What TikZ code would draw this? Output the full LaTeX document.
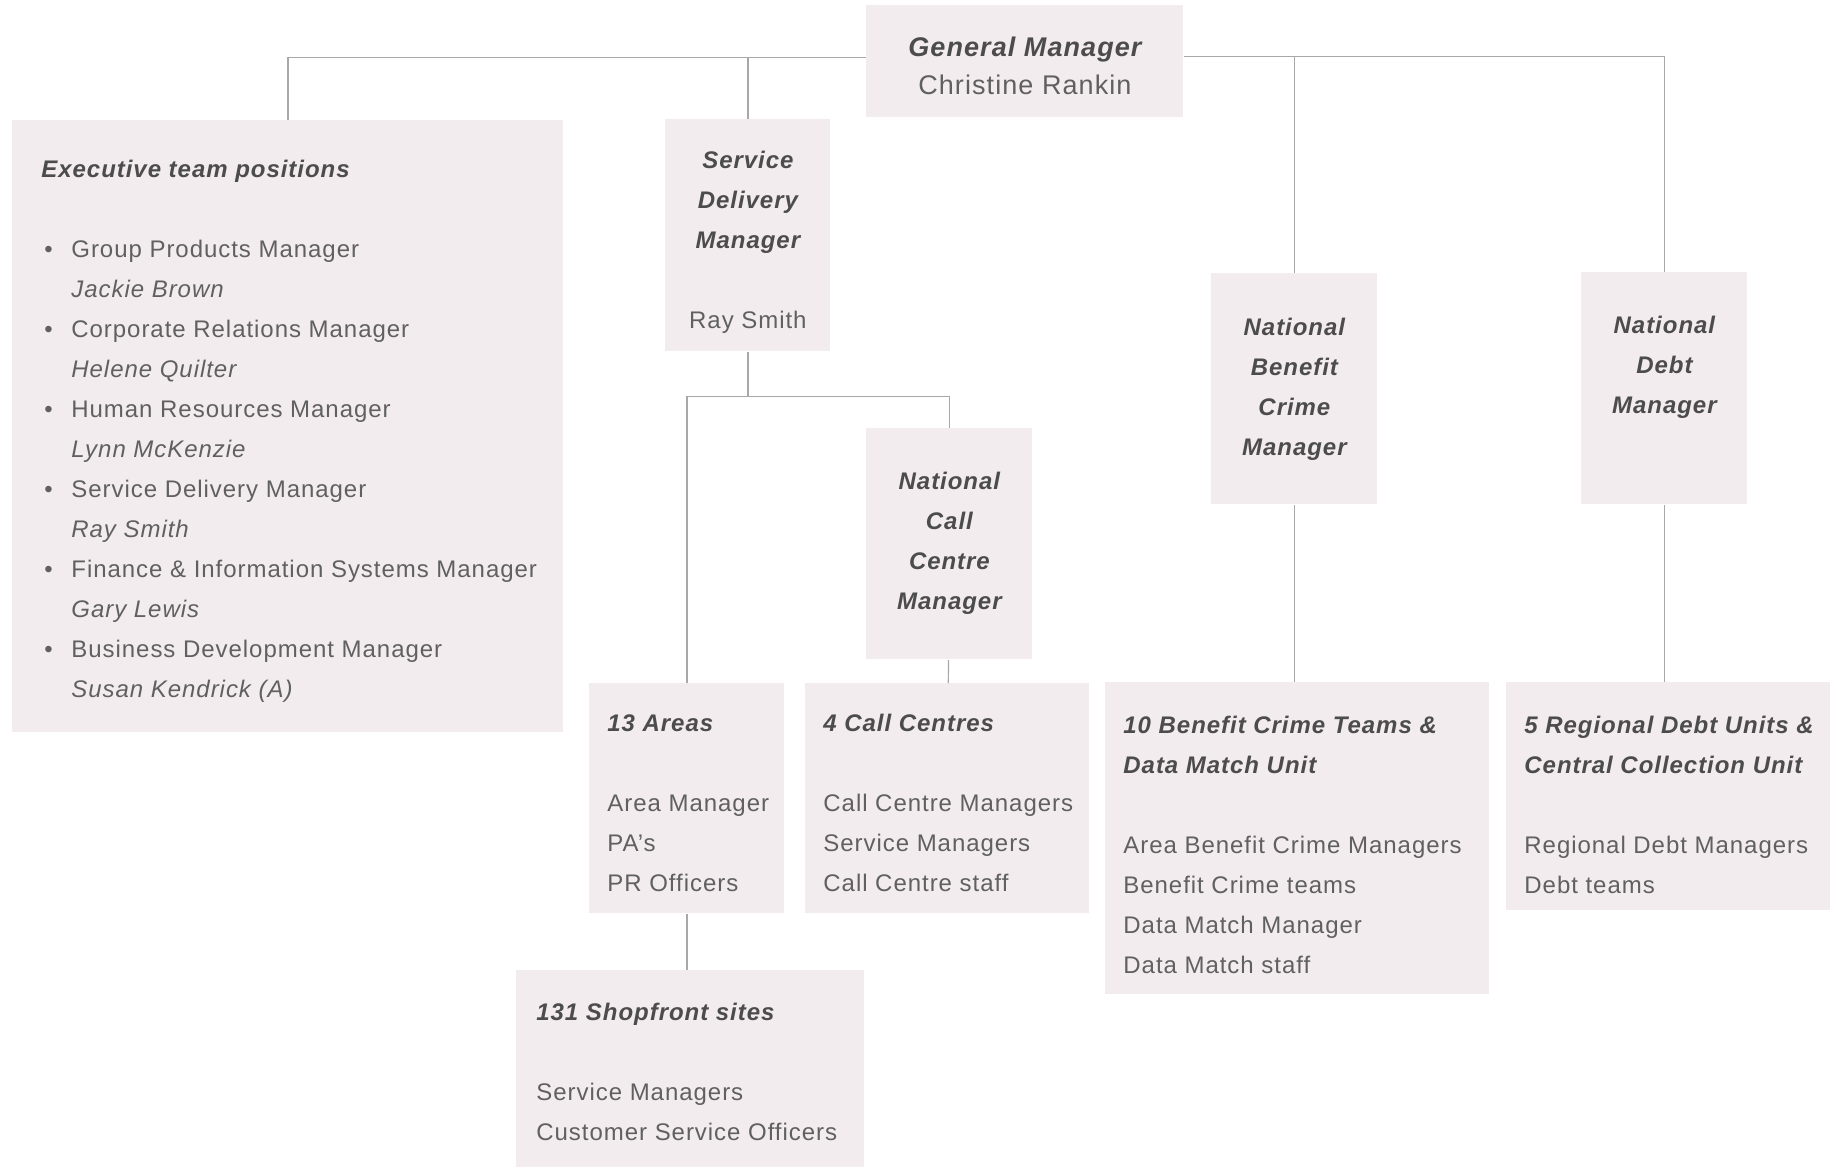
\documentclass[tikz,border=0pt]{standalone}
\usepackage{fontspec}
\setmainfont{Liberation Sans}[LetterSpace=4]

\definecolor{cardfill}{HTML}{F3ECEE}
\definecolor{textgray}{HTML}{606060}
\definecolor{headgray}{HTML}{4C4C4C}
\definecolor{linkgray}{HTML}{A8A8A8}

% heading and person name
\newcommand{\head}[1]{{\bfseries\itshape\color{headgray}#1}}
\newcommand{\who}[1]{\textit{#1}}
% bullet entry of the executive list
\newcommand{\post}[2]{\makebox[15pt][l]{\hspace{1.5pt}\textbullet}#1\\\hspace*{15pt}\who{#2}}
% card body: width, height, first baseline, alignment, text
\newcommand{\cardbody}[5]{\parbox[c][#2][t]{#1}{#4\rule{0pt}{#3}#5}}
\newcommand{\lefty}[1]{\fontsize{12}{20}\selectfont\raggedright\leftskip=#1\rightskip=-60pt plus 1fil}
\newcommand{\middy}{\fontsize{12}{20}\selectfont\centering\leftskip=-30pt plus 1fil\rightskip=-30pt plus 1fil}

\begin{document}
\begin{tikzpicture}
  [x=0.5pt,y=-0.5pt,
   card/.style={fill=cardfill,inner sep=0pt,anchor=north west,text=textgray},
   link/.style={draw=linkgray,line width=0.6pt}]
  \useasboundingbox (0,0) rectangle (1830,1168);

  \node (gm) at (866,5) [card]
    {\cardbody{158.5pt}{56pt}{25.5pt}{\middy\fontsize{13.5}{19}\selectfont}{\head{General Manager}\\Christine Rankin}};

  \node (exec) at (12,120) [card]
    {\cardbody{275.5pt}{306pt}{28.5pt}{\lefty{14.5pt}}{\head{Executive team positions}\\[20pt]
      \post{Group Products Manager}{Jackie Brown}\\
      \post{Corporate Relations Manager}{Helene Quilter}\\
      \post{Human Resources Manager}{Lynn McKenzie}\\
      \post{Service Delivery Manager}{Ray Smith}\\
      \post{Finance \& Information Systems Manager}{Gary Lewis}\\
      \post{Business Development Manager}{Susan Kendrick (A)}}};

  \node (sdm) at (665,119) [card]
    {\cardbody{82.5pt}{116pt}{24.5pt}{\middy}{\head{Service}\\\head{Delivery}\\\head{Manager}\\[20pt]Ray Smith}};
  \node (nbc) at (1211,273) [card]
    {\cardbody{83pt}{115.5pt}{31pt}{\middy}{\head{National}\\\head{Benefit}\\\head{Crime}\\\head{Manager}}};
  \node (ndm) at (1581,272) [card]
    {\cardbody{83pt}{116pt}{30.5pt}{\middy}{\head{National}\\\head{Debt}\\\head{Manager}}};
  \node (ncc) at (866,428) [card]
    {\cardbody{83pt}{115.5pt}{30.5pt}{\middy}{\head{National}\\\head{Call}\\\head{Centre}\\\head{Manager}}};

  \node (areas) at (589,683) [card]
    {\cardbody{97.5pt}{115pt}{24pt}{\lefty{9pt}}{\head{13 Areas}\\[20pt]Area Manager\\PA's\\PR Officers}};
  \node (calls) at (805,683) [card]
    {\cardbody{142pt}{115pt}{24pt}{\lefty{9pt}}{\head{4 Call Centres}\\[20pt]Call Centre Managers\\Service Managers\\Call Centre staff}};
  \node (bct) at (1105,682) [card]
    {\cardbody{192pt}{156pt}{25.5pt}{\lefty{9pt}}{\head{10 Benefit Crime Teams \&}\\\head{Data Match Unit}\\[20pt]Area Benefit Crime Managers\\Benefit Crime teams\\Data Match Manager\\Data Match staff}};
  \node (rdu) at (1506,682) [card]
    {\cardbody{162pt}{114pt}{25.5pt}{\lefty{9pt}}{\head{5 Regional Debt Units \&}\\\head{Central Collection Unit}\\[20pt]Regional Debt Managers\\Debt teams}};
  \node (shop) at (516,970) [card]
    {\cardbody{174pt}{98.5pt}{25pt}{\lefty{10pt}}{\head{131 Shopfront sites}\\[20pt]Service Managers\\Customer Service Officers}};

  \draw [link] ([yshift=2pt]gm.west) -| (exec);
  \draw [link] ([yshift=2pt]gm.west) -| (sdm);
  \draw [link] ([yshift=2.5pt]gm.east) -| (nbc);
  \draw [link] ([yshift=2.5pt]gm.east) -| (ndm);
  \draw [link] (sdm.south) -- ++(0,45) -| (areas.north);
  \draw [link] (sdm.south) ++(0,45) -| (ncc.north);
  \draw [link] (ncc) -- (calls);
  \draw [link] (nbc.south) -- (nbc.south |- bct.north);
  \draw [link] (ndm.south) -- (ndm.south |- rdu.north);
  \draw [link] (areas.south) -- (areas.south |- shop.north);
\end{tikzpicture}
\end{document}
